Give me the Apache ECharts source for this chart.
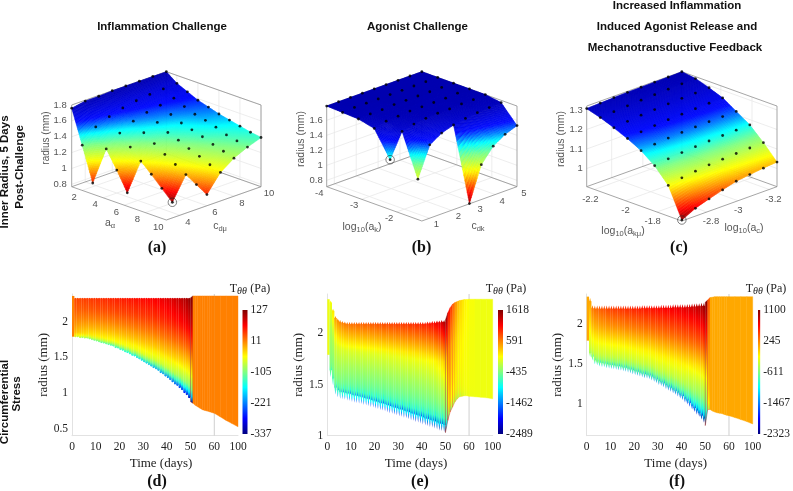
<!DOCTYPE html>
<html><head><meta charset="utf-8">
<style>html,body{margin:0;padding:0;background:#fff}#c{width:793px;height:491px}</style>
<script src="https://cdn.jsdelivr.net/npm/echarts@6/dist/echarts.min.js"></script>
</head><body><div id="c"></div>
<script>
// ---------- top row: radius surfaces (rows = first parameter, columns = second parameter)
const surfaceA = [
 [1.76,1.79,1.79,1.80,1.80,1.80,1.80,1.80],
 [1.34,1.51,1.58,1.63,1.66,1.68,1.69,1.70],
 [0.91,1.28,1.42,1.51,1.56,1.59,1.62,1.64],
 [null,1.06,1.29,1.41,1.48,1.52,1.56,1.58],
 [null,0.82,1.16,1.32,1.40,1.46,1.51,1.54],
 [null,null,1.04,1.23,1.35,1.42,1.48,1.50],
 [null,null,0.91,1.15,1.29,1.38,1.44,1.47],
 [null,null,0.78,1.07,1.24,1.33,1.39,1.44],
 [null,null,null,0.99,1.18,1.29,1.36,1.41],
 [null,null,null,0.91,1.13,1.25,1.33,1.39]];
const surfaceB = [
 [1.79,1.79,1.79,1.79,1.79,1.79,1.79,1.79,1.79],
 [1.78,1.79,1.79,1.79,1.79,1.79,1.79,1.79,1.79],
 [1.77,1.78,1.78,1.79,1.79,1.79,1.79,1.79,1.79],
 [1.72,1.76,1.77,1.78,1.78,1.78,1.78,1.79,1.79],
 [1.38,1.70,1.74,1.76,1.77,1.77,1.78,1.78,1.79],
 [null,1.14,1.54,1.64,1.69,1.72,1.74,1.75,1.76],
 [null,null,null,null,0.72,1.18,1.37,1.47,1.53]];
const surfaceC = [
 [1.307,1.310,1.313,1.315,1.316,1.317,1.318,1.320],
 [1.286,1.291,1.296,1.300,1.303,1.306,1.308,1.310],
 [1.259,1.267,1.273,1.277,1.281,1.284,1.286,1.288],
 [1.229,1.238,1.245,1.250,1.253,1.256,1.259,1.261],
 [1.192,1.200,1.206,1.210,1.213,1.215,1.216,1.217],
 [1.140,1.150,1.157,1.162,1.166,1.169,1.171,1.173],
 [1.064,1.078,1.087,1.094,1.098,1.102,1.105,1.107],
 [0.912,0.947,0.970,0.991,1.010,1.019,1.027,1.033]];
const zTicksA = [0.8,1,1.2,1.4,1.6,1.8];
const zTicksB = [0.8,1,1.2,1.4,1.6];
const zTicksC = [1,1.1,1.2,1.3];
const rowTicksA = [2,4,6,8,10], colTicksA = [4,6,8,10];
const rowTicksB = [-4,-3,-2], colTicksB = [1,2,3,4,5];
const rowTicksC = [-2.2,-2,-1.8], colTicksC = [-2.8,-3,-3.2];

// ---------- bottom row: stress ribbons
const timeTickLabels = ['0','10','20','30','40','50','60','100'];
const days = [0,1,2,3,4,5,6,7,8,9,10,11,12,13,14,15,16,17,18,19,20,21,22,23,24,25,26,27,28,29,30,
 31,32,33,34,35,36,37,38,39,40,41,42,43,44,45,46,47,48,49,50,51,52,53,54,55,56,57,58,59,60,70,80,90,100];
const outerD = [2.36,
 2.335,2.335,2.335,2.335,2.335,2.335,2.335,2.335,2.335,2.335,
 2.335,2.335,2.335,2.335,2.335,2.335,2.335,2.335,2.335,2.335,
 2.335,2.335,2.335,2.335,2.335,2.335,2.335,2.335,2.335,2.335,
 2.335,2.335,2.335,2.335,2.335,2.335,2.335,2.335,2.335,2.335,
 2.335,2.335,2.335,2.335,2.335,2.335,2.335,2.335,2.335,2.335,
 2.36,2.36,2.36,2.36,2.36,2.36,2.36,2.36,2.36,2.36, 2.36,2.36,2.36,2.36];
const innerD = [1.79,
 1.78,1.78,1.77,1.77,1.76,1.76,1.75,1.74,1.73,1.72,
 1.71,1.70,1.69,1.68,1.67,1.66,1.65,1.63,1.62,1.60,
 1.59,1.57,1.56,1.54,1.52,1.51,1.49,1.47,1.45,1.43,
 1.41,1.39,1.37,1.35,1.33,1.31,1.28,1.26,1.23,1.21,
 1.18,1.15,1.12,1.10,1.07,1.04,1.00,0.97,0.93,0.88,
 0.86,0.83,0.81,0.79,0.77,0.76,0.75,0.74,0.73,0.72, 0.67,0.62,0.575,0.53];
const stressOuterD = [11,
 38,40,40,42,43,44,45,46,47,48,
 49,50,51,52,53,54,55,56,57,58,
 59,60,61,62,63,64,65,66,67,68,
 69,70,71,72,74,76,78,80,82,84,
 86,88,91,94,97,101,105,110,118,127,
 11,11,11,11,11,11,11,11,11,11, 11,11,11,11];
const stressInnerD = [11,
 -70,-80,-88,-95,-100,-105,-110,-114,-118,-122,
 -125,-128,-131,-134,-137,-140,-143,-146,-149,-152,
 -155,-157,-160,-163,-166,-169,-172,-175,-178,-181,
 -185,-189,-193,-197,-201,-205,-209,-213,-217,-221,
 -228,-235,-243,-251,-259,-268,-278,-290,-305,-325,
 11,11,11,11,11,11,11,11,11,11, 11,11,11,11];
const outerE = [2.333,
 2.32,2.24,2.17,2.145,2.13,2.12,2.115,2.11,2.11,2.11,
 2.11,2.11,2.11,2.11,2.11,2.11,2.11,2.11,2.11,2.11,
 2.11,2.11,2.11,2.11,2.11,2.11,2.11,2.11,2.11,2.11,
 2.11,2.11,2.11,2.11,2.11,2.11,2.11,2.11,2.11,2.11,
 2.11,2.115,2.115,2.12,2.12,2.125,2.125,2.13,2.13,2.13,
 2.20,2.25,2.285,2.30,2.31,2.32,2.325,2.33,2.33,2.333, 2.333,2.333,2.333,2.333];
const innerE = [1.79,
 1.57,1.49,1.40,1.375,1.36,1.355,1.35,1.345,1.34,1.33,
 1.325,1.32,1.315,1.31,1.30,1.295,1.29,1.28,1.275,1.265,
 1.26,1.25,1.245,1.24,1.23,1.22,1.215,1.205,1.20,1.19,
 1.185,1.175,1.17,1.16,1.15,1.145,1.135,1.13,1.12,1.11,
 1.10,1.095,1.085,1.08,1.07,1.06,1.05,1.045,1.035,1.03,
 1.15,1.233,1.28,1.33,1.36,1.38,1.385,1.39,1.39,1.385, 1.38,1.375,1.37,1.36];
const stressOuterE = [15,
 60,200,500,560,600,630,650,670,690,700,
 710,720,730,740,750,760,770,780,790,800,
 810,820,830,840,850,860,870,880,890,900,
 910,920,930,940,950,960,975,985,1000,1010,
 1030,1050,1080,1110,1150,1200,1260,1340,1450,1618,
 1100,900,700,500,350,250,180,120,80,50, 15,15,15,15];
const stressInnerE = [15,
 -900,-1150,-1400,-1500,-1580,-1640,-1690,-1730,-1770,-1800,
 -1815,-1830,-1845,-1860,-1875,-1890,-1905,-1920,-1935,-1950,
 -1960,-1970,-1980,-1990,-2000,-2010,-2020,-2030,-2040,-2050,
 -2060,-2070,-2080,-2090,-2100,-2110,-2120,-2130,-2140,-2150,
 -2165,-2180,-2200,-2220,-2245,-2270,-2300,-2340,-2400,-2489,
 -1000,-700,-550,-400,-300,-200,-120,-60,-20,0, 15,15,15,15];
const outerF = [2.347,
 2.33,2.24,2.235,2.235,2.235,2.235,2.235,2.235,2.235,2.235,
 2.235,2.235,2.235,2.235,2.235,2.235,2.235,2.235,2.235,2.235,
 2.235,2.235,2.24,2.24,2.24,2.24,2.24,2.24,2.24,2.24,
 2.245,2.245,2.245,2.245,2.245,2.25,2.25,2.25,2.25,2.25,
 2.25,2.255,2.255,2.26,2.26,2.265,2.265,2.27,2.27,2.275,
 2.305,2.335,2.34,2.347,2.347,2.347,2.347,2.347,2.347,2.347, 2.347,2.347,2.347,2.347];
const innerF = [1.795,
 1.59,1.545,1.50,1.485,1.47,1.465,1.46,1.45,1.445,1.44,
 1.435,1.43,1.425,1.42,1.41,1.405,1.395,1.385,1.375,1.364,
 1.355,1.345,1.335,1.325,1.32,1.31,1.295,1.28,1.26,1.24,
 1.225,1.21,1.19,1.17,1.155,1.135,1.115,1.095,1.07,1.05,
 1.02,0.995,0.965,0.93,0.90,0.87,0.84,0.805,0.77,0.73,
 0.93,0.933,0.912,0.90,0.89,0.885,0.88,0.87,0.86,0.854, 0.83,0.805,0.78,0.75];
const stressOuterF = [107,
 150,300,340,370,400,420,440,460,480,500,
 510,520,530,540,550,560,570,580,590,600,
 610,620,630,640,650,660,670,680,690,700,
 710,720,730,740,750,760,770,780,790,800,
 815,830,850,870,890,915,945,985,1040,1100,
 400,107,107,107,107,107,107,107,107,107, 107,107,107,107];
const stressInnerF = [107,
 -800,-1000,-1080,-1130,-1170,-1200,-1230,-1250,-1280,-1300,
 -1310,-1320,-1330,-1340,-1350,-1360,-1370,-1380,-1390,-1400,
 -1410,-1420,-1430,-1440,-1450,-1460,-1470,-1480,-1490,-1500,
 -1520,-1540,-1560,-1580,-1600,-1620,-1640,-1660,-1680,-1700,
 -1750,-1810,-1870,-1930,-2000,-2060,-2120,-2180,-2250,-2323,
 -500,107,107,107,107,107,107,107,107,107, 107,107,107,107];
const colorTicksD = [-337,-221,-105,11,127];
const colorTicksE = [-2489,-1462,-435,591,1618];
const colorTicksF = [-2323,-1467,-611,245,1100];
const radiusTicksD = [0.5,1,1.5,2], radiusTicksE = [1,1.5,2], radiusTicksF = [1,1.5,2];

// ---------- helpers
const SANS='"Liberation Sans",sans-serif', SERIF='"Liberation Serif",serif';
const clamp=v=>Math.max(0,Math.min(1,v));
function jet(t){t=clamp(t);
  const r=clamp(Math.min(4*t-1.5,-4*t+4.5)),g=clamp(Math.min(4*t-.5,-4*t+3.5)),b=clamp(Math.min(4*t+.5,-4*t+2.5));
  return 'rgb('+Math.round(r*255)+','+Math.round(g*255)+','+Math.round(b*255)+')';}
const surfaceRamp=[[0,140,0,0],[.10,255,0,0],[.24,255,140,0],[.36,255,255,0],[.53,130,255,130],[.65,0,255,255],[.72,0,130,255],[.80,0,10,255],[1,0,0,175]];
function surfColor(n){n=clamp(n);
  for(let k=1;k<surfaceRamp.length;k++){const a=surfaceRamp[k-1],b=surfaceRamp[k];
    if(n<=b[0]){const f=(n-a[0])/(b[0]-a[0]);
      return 'rgb('+[1,2,3].map(c=>Math.round(a[c]+(b[c]-a[c])*f)).join(',')+')';}}
  return 'rgb(0,0,175)';}

const grids=[],xAxes=[],yAxes=[],series=[];
function addGrid(g,x,y){grids.push(g);xAxes.push(Object.assign({gridIndex:grids.length-1},x));yAxes.push(Object.assign({gridIndex:grids.length-1},y));return grids.length-1;}

function surfacePanel(cfg){
  const gi=addGrid({left:cfg.left,top:cfg.top,width:cfg.width,height:cfg.height},
    {type:'value',min:0,max:1,show:false},{type:'value',min:0,max:1,show:false});
  const T=cfg.table,nI=T.length,nJ=T[0].length,fl=cfg.floor;
  const flat=T.flat().filter(v=>v!==null),zLo=Math.min(...flat),zHi=Math.max(...flat);
  const nz=z=>(z-cfg.zRange[0])/(cfg.zRange[1]-cfg.zRange[0]);
  const P=(A,C,Z)=>[.5*A+.5*C,(1-A)*fl+C*fl+Z*(1-2*fl)];
  const nA=v=>(v-cfg.rowRange[0])/(cfg.rowRange[1]-cfg.rowRange[0]);
  const nC=v=>(v-cfg.colRange[0])/(cfg.colRange[1]-cfg.colRange[0]);
  series.push({type:'custom',coordinateSystem:'cartesian2d',xAxisIndex:gi,yAxisIndex:gi,silent:true,clip:false,data:[[0,0]],z:1,
    renderItem(p,api){
      const ch=[];
      const ln=(a,b,col,w)=>{const s=api.coord(P(...a)),e=api.coord(P(...b));
        ch.push({type:'line',shape:{x1:s[0],y1:s[1],x2:e[0],y2:e[1]},style:{stroke:col,lineWidth:w||.8,fill:null}});};
      const tx=(x,y,text,align,extra)=>ch.push(Object.assign({type:'text',x,y,style:Object.assign({text,align:align||'center',verticalAlign:'middle',fill:'#555',fontSize:9.5,fontFamily:SANS},extra||{})}));
      const G='#e8e8e8',B='#8f8f8f';
      cfg.rowTicks.forEach(v=>{const a=nA(v);ln([a,0,0],[a,1,0],G);ln([a,1,0],[a,1,1],G);});
      cfg.colTicks.forEach(v=>{const c=nC(v);ln([0,c,0],[1,c,0],G);ln([0,c,0],[0,c,1],G);});
      cfg.zTicks.forEach(v=>{const z=nz(v);ln([0,0,z],[0,1,z],G);ln([0,1,z],[1,1,z],G);
        const q=api.coord(P(0,0,z));tx(q[0]-cfg.zOff,q[1],String(v),'right');});
      ln([0,0,0],[1,0,0],B);ln([1,0,0],[1,1,0],B);ln([1,1,0],[0,1,0],B);ln([0,1,0],[0,0,0],B);
      ln([0,0,1],[0,1,1],B);ln([0,1,1],[1,1,1],B);ln([0,0,0],[0,0,1],B);ln([0,1,0],[0,1,1],B);ln([1,1,0],[1,1,1],B);
      cfg.rowTicks.forEach(v=>{const q=api.coord(P(nA(v),0,0));tx(q[0]+cfg.rowOff[0],q[1]+cfg.rowOff[1],String(v),cfg.rowOff[2]);});
      cfg.colTicks.forEach(v=>{const q=api.coord(P(1,nC(v),0));tx(q[0]+cfg.colOff[0],q[1]+cfg.colOff[1],String(v),cfg.colOff[2]);});
      return {type:'group',children:ch};
    }});
  const cells=[];
  for(let i=0;i<nI-1;i++)for(let j=nJ-2;j>=0;j--)
    if(T[i][j]!==null&&T[i+1][j]!==null&&T[i][j+1]!==null&&T[i+1][j+1]!==null)cells.push([i,j]);
  const N=14;
  series.push({type:'custom',coordinateSystem:'cartesian2d',xAxisIndex:gi,yAxisIndex:gi,silent:true,clip:false,data:cells,z:2,progressive:0,
    renderItem(p,api){
      const i=api.value(0),j=api.value(1),ch=[];
      const bil=(s,t)=>T[i][j]*(1-s)*(1-t)+T[i+1][j]*s*(1-t)+T[i][j+1]*(1-s)*t+T[i+1][j+1]*s*t;
      const pt=(s,t)=>api.coord(P((i+s)/(nI-1),(j+t)/(nJ-1),nz(bil(s,t))));
      for(let a=0;a<N;a++)for(let b=N-1;b>=0;b--){
        const s0=a/N,s1=(a+1)/N,t0=b/N,t1=(b+1)/N;
        const col=surfColor((bil((s0+s1)/2,(t0+t1)/2)-zLo)/(zHi-zLo));
        ch.push({type:'polygon',shape:{points:[pt(s0,t0),pt(s1,t0),pt(s1,t1),pt(s0,t1)]},style:{fill:col,stroke:col,lineWidth:.5}});
      }
      return {type:'group',children:ch};
    }});
  const dots=[];
  T.forEach((row,i)=>row.forEach((z,j)=>{if(z!==null)dots.push(P(i/(nI-1),j/(nJ-1),nz(z)));}));
  series.push({type:'scatter',xAxisIndex:gi,yAxisIndex:gi,silent:true,clip:false,z:3,data:dots,symbolSize:2.8,itemStyle:{color:'#000'}});
  const m=cfg.mark;
  const mp=P(m[0]/(nI-1),m[1]/(nJ-1),nz(T[m[0]][m[1]]));
  series.push({type:'scatter',xAxisIndex:gi,yAxisIndex:gi,silent:true,clip:false,z:3,data:[mp],symbolSize:8.5,itemStyle:{color:'rgba(0,0,0,0)',borderColor:'#222',borderWidth:.7}});
}

function stressPanel(cfg){
  const toPos=d=>d<=60?d/10:6+(d-60)/40;
  const gi=addGrid({left:cfg.left,top:294,width:cfg.width,height:141.7},
    {type:'value',min:0,max:7,interval:1,name:'Time (days)',nameLocation:'middle',nameGap:21,
     nameTextStyle:{fontFamily:SERIF,fontSize:13,color:'#222',padding:[0,0,0,12]},
     axisLine:{lineStyle:{color:'#e2e2e2'}},axisTick:{show:false},splitLine:{show:false},
     axisLabel:{margin:5,fontFamily:SERIF,fontSize:11.5,color:'#222',formatter:v=>timeTickLabels[v]}},
    {type:'value',min:cfg.yRange[0],max:cfg.yRange[1],name:'radius (mm)',nameLocation:'middle',nameGap:cfg.nameGap,nameRotate:90,
     nameTextStyle:{fontFamily:SERIF,fontSize:13,color:'#222'},
     axisLine:{show:true,lineStyle:{color:'#e2e2e2'}},axisTick:{show:false},splitLine:{show:false},
     axisLabel:{margin:4,fontFamily:SERIF,fontSize:11.5,color:'#222',customValues:cfg.radiusTicks,formatter:v=>String(v)}});
  series.push({type:'custom',coordinateSystem:'cartesian2d',xAxisIndex:gi,yAxisIndex:gi,silent:true,clip:false,z:1,
    data:[[timeTickLabels.indexOf('60'),0]],renderItem(p,api){
      const a=api.coord([api.value(0),cfg.yRange[0]]),b=api.coord([api.value(0),cfg.yRange[1]]);
      return {type:'line',shape:{x1:a[0],y1:a[1],x2:b[0],y2:b[1]},style:{stroke:'#cfcfcf',lineWidth:1}};
    }});
  const lo=cfg.colorTicks[0],hi=cfg.colorTicks[cfg.colorTicks.length-1];
  const tn=v=>(v-lo)/(hi-lo);
  const prof=s=>{const S=cfg.profS,F=cfg.profF;for(let q=1;q<S.length;q++)if(s<=S[q])return F[q-1]+(F[q]-F[q-1])*(s-S[q-1])/(S[q]-S[q-1]);return 1;};
  const grad=(tO,tI)=>{const st=[];for(let q=0;q<=16;q++){const s=q/16;st.push({offset:s,color:jet(tn(tO+(tI-tO)*prof(s)))});}
    return {type:'linear',x:0,y:0,x2:0,y2:1,colorStops:st};};
  const idx=days.slice(0,-1).map((d,k)=>[k,0]);
  series.push({type:'custom',coordinateSystem:'cartesian2d',xAxisIndex:gi,yAxisIndex:gi,silent:true,clip:false,z:2,progressive:0,data:idx,
    renderItem(p,api){
      const k=api.value(0),x0=toPos(days[k]),x1=toPos(days[k+1]);
      const O=cfg.outer,I=cfg.inner,tO=cfg.tOuter[k],tI=cfg.tInner[k],w=x1-x0;
      const c=(x,r)=>api.coord([x,r]);
      if(k===0||k>=50){
        const end=k===0?O[0]:O[k+1],endI=k===0?I[0]:I[k+1];
        return {type:'polygon',shape:{points:[c(x0,O[k]),c(x1,end),c(x1,endI),c(x0,I[k])]},
          style:{fill:grad(tO,tI),stroke:jet(tn(tO)),lineWidth:k===0?0:.4}};
      }
      const d=cfg.toothTop,D=cfg.toothBot,shade=cfg.relax*(hi-lo),xm=x0+w*.45;
      return {type:'group',children:[
        {type:'polygon',shape:{points:[c(x0,O[k]-d),c(x1,O[k]-d),c(x1,I[k]+D),c(x0,I[k]+D)]},
          style:{fill:grad(tO-shade,tI+shade),stroke:null}},
        {type:'polygon',shape:{points:[c(x0+w*.05,O[k]-d),c(xm,O[k]),c(x0+w*.75,O[k]-d),c(x0+w*.75,I[k]+D),c(xm,I[k]),c(x0+w*.05,I[k]+D)]},
          style:{fill:grad(tO,tI),stroke:null}}
      ]};
    }});
  const bi=addGrid({left:cfg.barLeft,top:310,width:5,height:124},
    {type:'value',min:0,max:1,show:false},
    {type:'value',min:lo,max:hi,position:'right',axisLine:{show:false},axisTick:{show:false},splitLine:{show:false},
     axisLabel:{margin:3,fontFamily:SERIF,fontSize:11.5,color:'#222',customValues:cfg.colorTicks,formatter:v=>String(v)}});
  series.push({type:'custom',coordinateSystem:'cartesian2d',xAxisIndex:bi,yAxisIndex:bi,silent:true,clip:false,z:2,data:[[0,lo]],
    renderItem(p,api){
      const a=api.coord([0,hi]),b=api.coord([1,lo]),st=[];
      for(let q=0;q<=16;q++)st.push({offset:q/16,color:jet(1-q/16)});
      return {type:'rect',shape:{x:a[0],y:a[1],width:b[0]-a[0],height:b[1]-a[1]},style:{fill:{type:'linear',x:0,y:0,x2:0,y2:1,colorStops:st}}};
    }});
}

surfacePanel({table:surfaceA,left:71.7,top:71.7,width:189.3,height:148.3,floor:.2245,zRange:[.77,1.80],zTicks:zTicksA,zOff:5,
  rowTicks:rowTicksA,rowRange:[1,10],colTicks:colTicksA,colRange:[3,10],rowOff:[-8,7,'center'],colOff:[8,7,'center'],mark:[7,2]});
surfacePanel({table:surfaceB,left:326.7,top:71.7,width:190.3,height:149.3,floor:.23,zRange:[.716,1.79],zTicks:zTicksB,zOff:4,
  rowTicks:rowTicksB,rowRange:[-4,-1.28],colTicks:colTicksB,colRange:[.65,5],rowOff:[-7.5,6.5,'center'],colOff:[7,6.5,'center'],mark:[4,0]});
surfacePanel({table:surfaceC,left:586.7,top:71.7,width:190.3,height:149.3,floor:.23,zRange:[.907,1.32],zTicks:zTicksC,zOff:4,
  rowTicks:rowTicksC,rowRange:[-2.25,-1.64],colTicks:colTicksC,colRange:[-2.64,-3.25],rowOff:[4,9.7,'right'],colOff:[-4,9.7,'left'],mark:[7,0]});

stressPanel({left:72,width:166,yRange:[.406,2.387],radiusTicks:radiusTicksD,nameGap:16,outer:outerD,inner:innerD,tOuter:stressOuterD,tInner:stressInnerD,
  colorTicks:colorTicksD,barLeft:242.5,toothTop:.01,toothBot:.012,relax:.01,profS:[0,.28,.49,.7,.91,1],profF:[0,.09,.21,.36,.55,1]});
stressPanel({left:327.3,width:165.4,yRange:[1,2.384],radiusTicks:radiusTicksE,nameGap:16,outer:outerE,inner:innerE,tOuter:stressOuterE,tInner:stressInnerE,
  colorTicks:colorTicksE,barLeft:498,toothTop:.02,toothBot:.07,relax:.008,profS:[0,.19,.38,.57,.75,.89,.95,1],profF:[0,.15,.31,.39,.46,.54,.68,1]});
stressPanel({left:586.7,width:166,yRange:[.603,2.38],radiusTicks:radiusTicksF,nameGap:16,outer:outerF,inner:innerF,tOuter:stressOuterF,tInner:stressInnerF,
  colorTicks:colorTicksF,barLeft:758,toothTop:.04,toothBot:.05,relax:.008,profS:[0,.34,.61,.84,.94,1],profF:[0,.18,.37,.5,.66,1]});

// ---------- static text
const bold11='bold 11.5px '+SANS;
function txt(x,y,text,font,rot,color){return {type:'text',x,y,rotation:rot||0,silent:true,style:{text,font,fill:color||'#111',align:'center',verticalAlign:'middle'}};}
function sub(x,y,base,size){return {type:'text',x,y,silent:true,style:{text:base,align:'center',verticalAlign:'middle',fill:'#555',fontFamily:SANS,fontSize:size,
  rich:{s:{fontFamily:SANS,fontSize:size-3,fill:'#555',padding:[5,0,0,0]},m:{fontFamily:SANS,fontSize:size,fill:'#555'}}}};}
const R=Math.PI/2;
const PH='bold 16px '+SERIF;
function tauLabel(x){return {type:'text',x,y:288.5,silent:true,style:{text:'{t|T}{s|θθ} {t|(Pa)}',align:'center',verticalAlign:'middle',
  rich:{t:{fontFamily:SERIF,fontSize:12,fill:'#222'},s:{fontFamily:SERIF,fontStyle:'italic',fontSize:10,fill:'#222',padding:[5,0,0,0]}}}};}
const graphics=[
  txt(162,27,'Inflammation Challenge',bold11),
  txt(417.5,27,'Agonist Challenge',bold11),
  txt(677,6,'Increased Inflammation',bold11),
  txt(677,27,'Induced Agonist Release and',bold11),
  txt(675,48,'Mechanotransductive Feedback',bold11),
  txt(5,172,'Inner Radius, 5 Days',bold11,R),
  txt(20,167,'Post-Challenge',bold11,R),
  txt(4.5,402,'Circumferential',bold11,R),
  txt(17,394,'Stress',bold11,R),
  txt(157,248,'(a)',PH),txt(421.5,248,'(b)',PH),txt(679,248,'(c)',PH),
  txt(157,482,'(d)',PH),txt(420,482,'(e)',PH),txt(677,482,'(f)',PH),
  txt(46,138,'radius (mm)','10px '+SANS,R,'#555'),
  txt(301,139,'radius (mm)','10.5px '+SANS,R,'#555'),
  txt(561,139,'radius (mm)','10.5px '+SANS,R,'#555'),
  sub(110,223,'{m|a}{s|α}',10.5),
  sub(220,226,'{m|c}{s|dμ}',10.5),
  sub(362,227,'{m|log}{s|10}{m|(a}{s|k}{m|)}',10.5),
  sub(478,226,'{m|c}{s|dk}',10.5),
  sub(623,231,'{m|log}{s|10}{m|(a}{s|kμ}{m|)}',10.5),
  sub(744,228,'{m|log}{s|10}{m|(a}{s|c}{m|)}',10.5),
  tauLabel(250),tauLabel(506),tauLabel(766)
];

const chart=echarts.init(document.getElementById('c'),null,{renderer:'canvas'});
chart.setOption({animation:false,backgroundColor:'#fff',tooltip:{show:false},grid:grids,xAxis:xAxes,yAxis:yAxes,series,graphic:graphics});
</script></body></html>
